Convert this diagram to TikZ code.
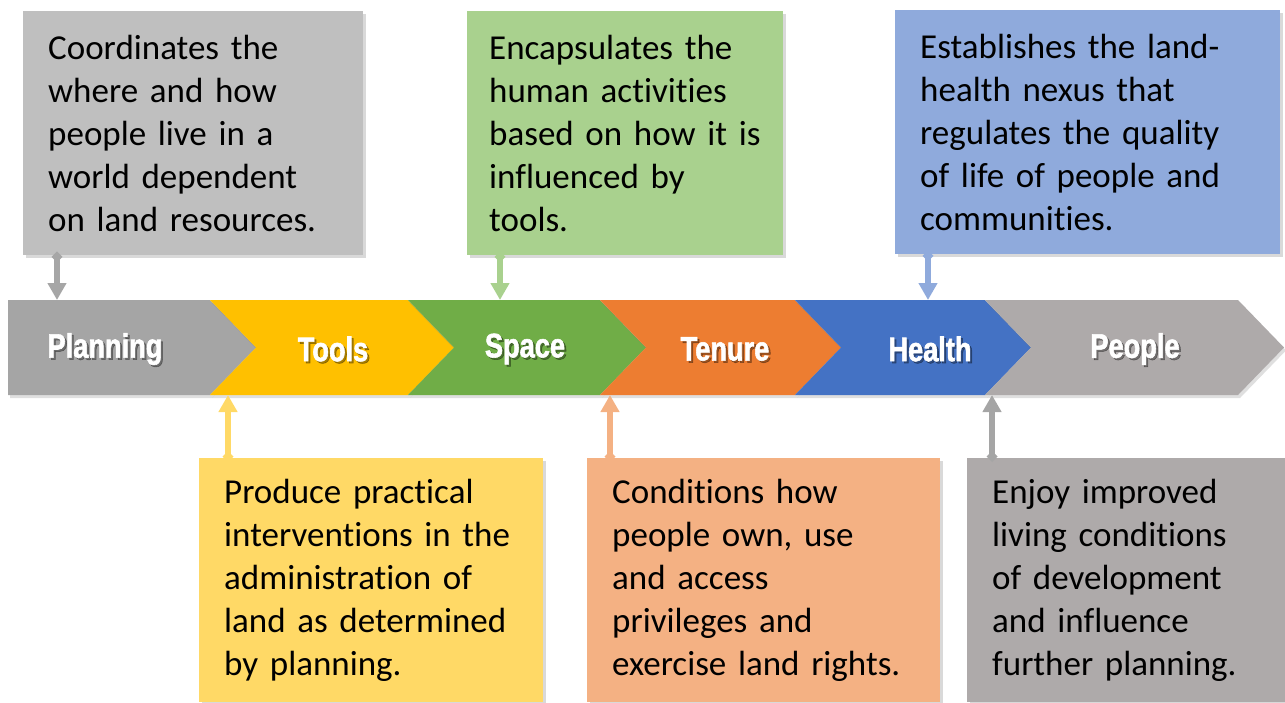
\documentclass[tikz,border=0pt]{standalone}
\usepackage{fontspec}
\setmainfont{Carlito}[Ligatures=NoCommon]
\newfontfamily\bannerfont[FakeStretch=0.8,BoldFeatures={FakeBold=1.6}]{Liberation Sans}
\usetikzlibrary{arrows.meta,shadows}

\definecolor{plangray}{HTML}{A5A5A5}
\definecolor{toolsyellow}{HTML}{FFC000}
\definecolor{spacegreen}{HTML}{70AD47}
\definecolor{tenureorange}{HTML}{ED7D31}
\definecolor{healthblue}{HTML}{4472C4}
\definecolor{peoplegray}{HTML}{AEAAAA}
\definecolor{boxgray}{HTML}{BFBFBF}
\definecolor{boxgreen}{HTML}{A9D18E}
\definecolor{boxblue}{HTML}{8FAADC}
\definecolor{boxyellow}{HTML}{FFD966}
\definecolor{boxorange}{HTML}{F4B183}
\definecolor{linkgray}{HTML}{A6A6A6}

\begin{document}
\begin{tikzpicture}[x=1pt,y=-1pt,
   info box/.style={rectangle,anchor=north west,inner xsep=25pt,inner ysep=0pt,
     minimum height=244pt,align=left,font=\fontsize{35}{43}\selectfont,
     drop shadow={shadow xshift=3pt,shadow yshift=-3pt,opacity=.3}},
   stage label/.style={text=white,font=\bannerfont\bfseries\fontsize{34}{40}\selectfont},
   link/.style={line width=5.5pt,{Diamond[length=11pt,width=11pt]}-{Triangle[length=17pt,width=18pt]}}]

  \useasboundingbox (0,0) rectangle (1285,702);

  % the banner, left to right
  \foreach \name/\lft/\rgt/\notch/\col/\tx/\txt in
     {planning/8/210/0/plangray/105/Planning,
      tools/210/408/46/toolsyellow/333/Tools,
      space/408/600/46/spacegreen/525/Space,
      tenure/600/795/46/tenureorange/725/Tenure,
      health/795/985/46/healthblue/930/Health,
      people/985/1238/46/peoplegray/1135/People}
  {
    \fill[\col,drop shadow={shadow xshift=2pt,shadow yshift=-3pt,opacity=.25}]
      (\lft,300) -- (\rgt,300) -- (\rgt+46,347.5) -- (\rgt,395) -- (\lft,395) -- (\lft+\notch,347.5) -- cycle;
    \node[stage label,text=black,opacity=.35] at (\tx+2,351) {\txt};
    \node[stage label] (\name) at (\tx,349) {\txt};
  }

  \coordinate (planning-in) at (57,300);
  \coordinate (space-in) at (500,300);
  \coordinate (health-in) at (928,300);
  \coordinate (tools-in) at (228,395);
  \coordinate (tenure-in) at (610,395);
  \coordinate (people-in) at (992,395);

  % boxes above
  \node[info box,fill=boxgray,text width=290pt] (coord) at (23,11)
    {Coordinates the\\where and how\\people live in a\\world dependent\\on land resources.};
  \node[info box,fill=boxgreen,inner xsep=22pt,text width=272pt] (encap) at (467,11)
    {Encapsulates the\\human activities\\based on how it is\\influenced by\\tools.};
  \node[info box,fill=boxblue,text width=335pt] (estab) at (895,10)
    {Establishes the land-\\health nexus that\\regulates the quality\\of life of people and\\communities.};

  % boxes below
  \node[info box,fill=boxyellow,text width=294pt] (produce) at (199,458)
    {Produce practical\\interventions in the\\administration of\\land as determined\\by planning.};
  \node[info box,fill=boxorange,text width=303pt] (cond) at (587,458)
    {Conditions how\\people own, use\\and access\\privileges and\\exercise land rights.};
  \node[info box,fill=peoplegray,text width=268pt] (enjoy) at (967,458)
    {Enjoy improved\\living conditions\\of development\\and influence\\further planning.};

  \draw[link,linkgray] ([yshift=4pt]coord.south -| planning-in) -- (planning-in);
  \draw[link,boxgreen] ([yshift=4pt]encap.south -| space-in) -- (space-in);
  \draw[link,boxblue] ([yshift=4pt]estab.south -| health-in) -- (health-in);
  \draw[link,boxyellow] ([yshift=-4pt]produce.north -| tools-in) -- (tools-in);
  \draw[link,boxorange] ([yshift=-4pt]cond.north -| tenure-in) -- (tenure-in);
  \draw[link,plangray] ([yshift=-4pt]enjoy.north -| people-in) -- (people-in);
\end{tikzpicture}
\end{document}
